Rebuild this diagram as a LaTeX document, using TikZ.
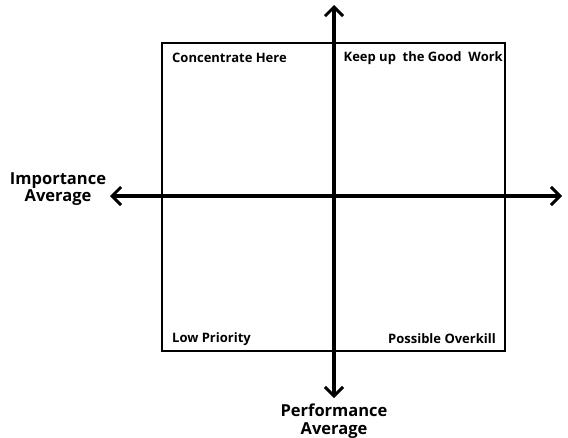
\documentclass[tikz,border=0pt]{standalone}
\usepackage{fontspec}
\setmainfont{Open Sans}
\usetikzlibrary{arrows.meta}
\begin{document}
\begin{tikzpicture}[x=1pt,y=-1pt,
  quad/.style={font=\fontsize{13}{14}\selectfont\bfseries, inner sep=0pt},
  axlabel/.style={font=\fontsize{16.5}{17.5}\selectfont\bfseries, align=center, inner sep=0pt},
  axisline/.style={line width=3.2pt, {Straight Barb[length=9pt,width=18pt,line width=3pt]}-{Straight Barb[length=9pt,width=18pt,line width=3pt]}}]
\useasboundingbox (0,0) rectangle (568,437);
\node[draw, line width=2.6pt, minimum width=343pt, minimum height=308pt, inner sep=0pt] (box) at (333.5,197) {};
\coordinate (top) at (334,5);
\coordinate (bot) at (334,398);
\coordinate (lft) at (110,196);
\coordinate (rgt) at (562,196);
\draw[axisline] (bot) -- (top);
\draw[axisline] (lft) -- (rgt);
\node[quad, anchor=west] (q1) at (172,58) {Concentrate Here};
\node[quad, anchor=east] (q2) at (503,58) {Keep up~ the Good~ Work};
\node[quad, anchor=west] (q3) at (172,339) {Low Priority};
\node[quad, anchor=east] (q4) at (496,339) {Possible Overkill};
\node[axlabel] (imp) at (58,189) {Importance\\Average};
\node[axlabel] (perf) at (334,421) {Performance\\Average};
\end{tikzpicture}
\end{document}
